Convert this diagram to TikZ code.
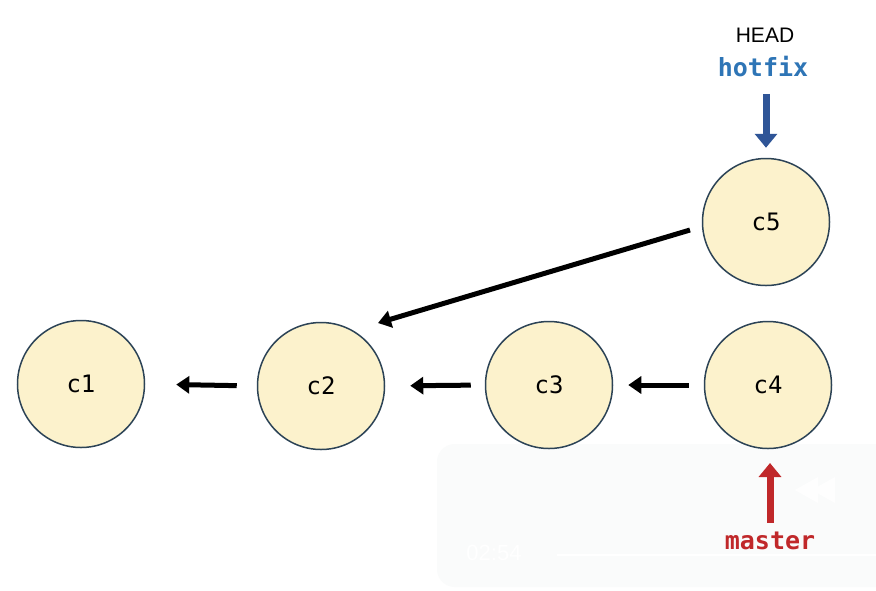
\documentclass[tikz,border=0pt]{standalone}
\usepackage{fontspec}
\setmainfont{Liberation Sans}
\newfontfamily\codefont{DejaVu Sans Mono}
\usetikzlibrary{arrows.meta}
\definecolor{commitfill}{HTML}{FCF2CC}
\definecolor{commitline}{HTML}{2C4356}
\definecolor{headblue}{HTML}{2F5597}
\definecolor{branchblue}{HTML}{2E75B6}
\definecolor{branchred}{HTML}{C0282A}
\definecolor{panelgray}{HTML}{FAFBFB}
\tikzset{
  commit/.style={circle, draw=commitline, line width=1.5pt, fill=commitfill,
    minimum size=127pt, inner sep=0pt, font=\codefont\fontsize{24}{26}\selectfont},
  parentlink/.style={line width=5pt, -{Triangle[length=13pt,width=17pt]}},
  pointer/.style={line width=7pt, -{Triangle[length=14pt,width=22pt]}},
  branchlabel/.style={font=\codefont\bfseries\fontsize{25}{28}\selectfont},
}
\begin{document}
\begin{tikzpicture}[x=1pt,y=-1pt]
  \useasboundingbox (0,0) rectangle (876,590);
  \fill[white] (0,0) rectangle (876,590);

  % faint player panel in the lower right
  \fill[panelgray, rounded corners=18pt] (437,444) rectangle (900,587);
  \fill[white, opacity=0.9] (795,490) -- (818,477) -- (818,503) -- cycle;
  \fill[white, opacity=0.9] (812,490) -- (835,477) -- (835,503) -- cycle;
  \draw[white, line width=2pt] (557,555) -- (876,555);
  \node[white, font=\fontsize{22}{24}\selectfont] (time) at (494,553) {02:54};

  % commits
  \node[commit] (c1) at (81,384) {c1};
  \node[commit] (c2) at (321,386) {c2};
  \node[commit] (c3) at (549,385) {c3};
  \node[commit] (c4) at (768,385) {c4};
  \node[commit] (c5) at (766,222) {c5};

  % parent links
  \draw[parentlink, shorten >=31pt, shorten <=20pt] (c2.west) -- (c1.east);
  \draw[parentlink, shorten >=25pt, shorten <=14pt] (c3.west) -- (c2.east);
  \draw[parentlink, shorten >=15pt, shorten <=15pt] (c4.west) -- (c3.east);
  \coordinate (c5tail) at (690,230);
  \coordinate (c2tip) at (378,323);
  \draw[parentlink] (c5tail) -- (c2tip);

  % branch pointers
  \node[font=\fontsize{21}{24}\selectfont] (head) at (765,35) {HEAD};
  \node[branchlabel, text=branchblue] (hotfix) at (763,67) {hotfix};
  \draw[pointer, headblue, shorten <=13pt, shorten >=10pt] (hotfix.south -| c5) -- (c5.north);

  \node[branchlabel, text=branchred] (master) at (770,541) {master};
  \draw[pointer, branchred, shorten <=6pt, shorten >=14pt] (master.north -| 770,0) -- (770,449);
\end{tikzpicture}
\end{document}
